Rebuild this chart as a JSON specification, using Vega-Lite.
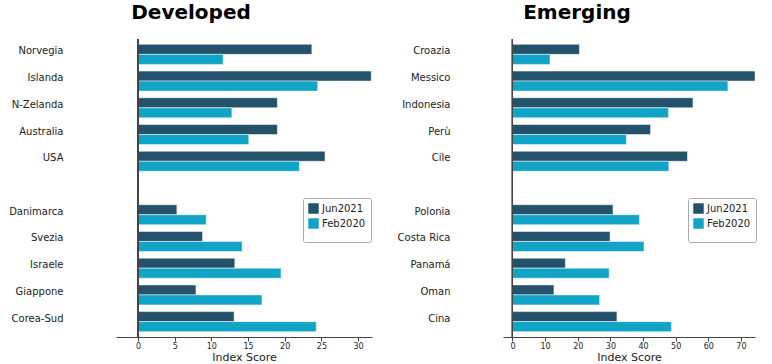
{
  "$schema": "https://vega.github.io/schema/vega-lite/v6.json",
  "padding": {"left": 8, "top": 2, "right": 0, "bottom": 0},
  "background": "white",
  "config": {
    "font": "DejaVu Sans",
    "view": {"stroke": null},
    "axis": {"labelFont": "DejaVu Sans", "titleFont": "DejaVu Sans"},
    "legend": {"labelFont": "DejaVu Sans", "titleFont": "DejaVu Sans"}
  },
  "spacing": 131,
  "bounds": "flush",
  "datasets": {
    "scores": [
      {"group": "Developed", "country": "Norvegia", "series": "Jun2021", "score": 23.7},
      {"group": "Developed", "country": "Norvegia", "series": "Feb2020", "score": 11.6},
      {"group": "Developed", "country": "Islanda", "series": "Jun2021", "score": 31.8},
      {"group": "Developed", "country": "Islanda", "series": "Feb2020", "score": 24.5},
      {"group": "Developed", "country": "N-Zelanda", "series": "Jun2021", "score": 19.0},
      {"group": "Developed", "country": "N-Zelanda", "series": "Feb2020", "score": 12.8},
      {"group": "Developed", "country": "Australia", "series": "Jun2021", "score": 19.0},
      {"group": "Developed", "country": "Australia", "series": "Feb2020", "score": 15.1},
      {"group": "Developed", "country": "USA", "series": "Jun2021", "score": 25.5},
      {"group": "Developed", "country": "USA", "series": "Feb2020", "score": 22.0},
      {"group": "Developed", "country": "Danimarca", "series": "Jun2021", "score": 5.3},
      {"group": "Developed", "country": "Danimarca", "series": "Feb2020", "score": 9.3},
      {"group": "Developed", "country": "Svezia", "series": "Jun2021", "score": 8.8},
      {"group": "Developed", "country": "Svezia", "series": "Feb2020", "score": 14.2},
      {"group": "Developed", "country": "Israele", "series": "Jun2021", "score": 13.2},
      {"group": "Developed", "country": "Israele", "series": "Feb2020", "score": 19.5},
      {"group": "Developed", "country": "Giappone", "series": "Jun2021", "score": 7.9},
      {"group": "Developed", "country": "Giappone", "series": "Feb2020", "score": 16.9},
      {"group": "Developed", "country": "Corea-Sud", "series": "Jun2021", "score": 13.1},
      {"group": "Developed", "country": "Corea-Sud", "series": "Feb2020", "score": 24.3},
      {"group": "Emerging", "country": "Croazia", "series": "Jun2021", "score": 20.5},
      {"group": "Emerging", "country": "Croazia", "series": "Feb2020", "score": 11.5},
      {"group": "Emerging", "country": "Messico", "series": "Jun2021", "score": 74.3},
      {"group": "Emerging", "country": "Messico", "series": "Feb2020", "score": 66.0},
      {"group": "Emerging", "country": "Indonesia", "series": "Jun2021", "score": 55.3},
      {"group": "Emerging", "country": "Indonesia", "series": "Feb2020", "score": 47.8},
      {"group": "Emerging", "country": "Perù", "series": "Jun2021", "score": 42.3},
      {"group": "Emerging", "country": "Perù", "series": "Feb2020", "score": 34.9},
      {"group": "Emerging", "country": "Cile", "series": "Jun2021", "score": 53.6},
      {"group": "Emerging", "country": "Cile", "series": "Feb2020", "score": 47.9},
      {"group": "Emerging", "country": "Polonia", "series": "Jun2021", "score": 30.8},
      {"group": "Emerging", "country": "Polonia", "series": "Feb2020", "score": 38.9},
      {"group": "Emerging", "country": "Costa Rica", "series": "Jun2021", "score": 29.9},
      {"group": "Emerging", "country": "Costa Rica", "series": "Feb2020", "score": 40.3},
      {"group": "Emerging", "country": "Panamá", "series": "Jun2021", "score": 16.2},
      {"group": "Emerging", "country": "Panamá", "series": "Feb2020", "score": 29.6},
      {"group": "Emerging", "country": "Oman", "series": "Jun2021", "score": 12.7},
      {"group": "Emerging", "country": "Oman", "series": "Feb2020", "score": 26.7},
      {"group": "Emerging", "country": "Cina", "series": "Jun2021", "score": 32.0},
      {"group": "Emerging", "country": "Cina", "series": "Feb2020", "score": 48.7}
    ]
  },
  "resolve": {"scale": {"x": "independent", "y": "independent", "color": "independent"}, "legend": {"color": "independent"}},
  "hconcat": [
    {
      "width": 256,
      "height": 298,
      "title": {"text": "Developed", "fontSize": 20, "fontWeight": "bold", "color": "#000", "frame": "group", "anchor": "middle", "dx": -53, "offset": 0, "baseline": "alphabetic"},
      "data": {"name": "scores"},
      "transform": [{"filter": "datum.group === 'Developed'"}],
      "layer": [
        {
          "mark": {"type": "bar", "stroke": "white", "strokeWidth": 0.5},
          "encoding": {
            "y": {"field": "country", "type": "nominal", "scale": {"domain": ["Norvegia", "Islanda", "N-Zelanda", "Australia", "USA", " ", "Danimarca", "Svezia", "Israele", "Giappone", "Corea-Sud"], "paddingInner": 0.25, "paddingOuter": 0.2},
              "axis": {"title": null, "domain": false, "ticks": false, "labelPadding": 53, "labelOffset": -3, "labelFontSize": 10, "labelColor": "#222"}},
            "yOffset": {"field": "series", "type": "nominal", "sort": ["Jun2021", "Feb2020"], "scale": {"paddingInner": 0, "paddingOuter": 0}},
            "x": {"field": "score", "type": "quantitative", "scale": {"domain": [-3, 31.9], "nice": false, "zero": false},
              "axis": {"title": "Index Score", "values": [0, 5, 10, 15, 20, 25, 30], "labelOverlap": false, "grid": false, "labelFontSize": 8, "labelColor": "#222", "tickSize": 4, "tickColor": "#444", "domainColor": "#444", "labelPadding": 1, "titleFontSize": 11, "titleFontWeight": "normal", "titleColor": "#222", "titlePadding": 1}},
            "color": {"field": "series", "type": "nominal", "scale": {"domain": ["Jun2021", "Feb2020"], "range": ["#23526a", "#12a4c6"]},
              "legend": {"orient": "none", "legendX": 187, "legendY": 159, "title": "\u00a0", "titleOrient": "bottom", "titleFontSize": 8, "titlePadding": 0, "symbolType": "square", "symbolSize": 110, "symbolStrokeWidth": 0, "labelFontSize": 10, "labelColor": "#222", "padding": 5, "rowPadding": 4, "labelOffset": 3, "fillColor": "white", "strokeColor": "#aaa", "cornerRadius": 2}}
          }
        },
        {
          "mark": {"type": "rule", "color": "#444", "strokeWidth": 1},
          "encoding": {"x": {"datum": 0, "type": "quantitative",
            "axis": {"title": "Index Score", "values": [0, 5, 10, 15, 20, 25, 30], "labelOverlap": false, "grid": false, "labelFontSize": 8, "labelColor": "#222", "tickSize": 4, "tickColor": "#444", "domainColor": "#444", "labelPadding": 1, "titleFontSize": 11, "titleFontWeight": "normal", "titleColor": "#222", "titlePadding": 1}}}
        }
      ]
    },
    {
      "width": 252,
      "height": 298,
      "title": {"text": "Emerging", "fontSize": 20, "fontWeight": "bold", "color": "#000", "frame": "group", "anchor": "middle", "dx": -52, "offset": 0, "baseline": "alphabetic"},
      "data": {"name": "scores"},
      "transform": [{"filter": "datum.group === 'Emerging'"}],
      "layer": [
        {
          "mark": {"type": "bar", "stroke": "white", "strokeWidth": 0.5},
          "encoding": {
            "y": {"field": "country", "type": "nominal", "scale": {"domain": ["Croazia", "Messico", "Indonesia", "Perù", "Cile", " ", "Polonia", "Costa Rica", "Panamá", "Oman", "Cina"], "paddingInner": 0.25, "paddingOuter": 0.2},
              "axis": {"title": null, "domain": false, "ticks": false, "labelPadding": 53, "labelOffset": -3, "labelFontSize": 10, "labelColor": "#222"}},
            "yOffset": {"field": "series", "type": "nominal", "sort": ["Jun2021", "Feb2020"], "scale": {"paddingInner": 0, "paddingOuter": 0}},
            "x": {"field": "score", "type": "quantitative", "scale": {"domain": [-2.9, 74.3], "nice": false, "zero": false},
              "axis": {"title": "Index Score", "values": [0, 10, 20, 30, 40, 50, 60, 70], "labelOverlap": false, "grid": false, "labelFontSize": 8, "labelColor": "#222", "tickSize": 4, "tickColor": "#444", "domainColor": "#444", "labelPadding": 1, "titleFontSize": 11, "titleFontWeight": "normal", "titleColor": "#222", "titlePadding": 1}},
            "color": {"field": "series", "type": "nominal", "scale": {"domain": ["Jun2021", "Feb2020"], "range": ["#23526a", "#12a4c6"]},
              "legend": {"orient": "none", "legendX": 185, "legendY": 159, "title": "\u00a0", "titleOrient": "bottom", "titleFontSize": 8, "titlePadding": 0, "symbolType": "square", "symbolSize": 110, "symbolStrokeWidth": 0, "labelFontSize": 10, "labelColor": "#222", "padding": 5, "rowPadding": 4, "labelOffset": 3, "fillColor": "white", "strokeColor": "#aaa", "cornerRadius": 2}}
          }
        },
        {
          "mark": {"type": "rule", "color": "#444", "strokeWidth": 1},
          "encoding": {"x": {"datum": 0, "type": "quantitative",
            "axis": {"title": "Index Score", "values": [0, 10, 20, 30, 40, 50, 60, 70], "labelOverlap": false, "grid": false, "labelFontSize": 8, "labelColor": "#222", "tickSize": 4, "tickColor": "#444", "domainColor": "#444", "labelPadding": 1, "titleFontSize": 11, "titleFontWeight": "normal", "titleColor": "#222", "titlePadding": 1}}}
        }
      ]
    }
  ]
}
